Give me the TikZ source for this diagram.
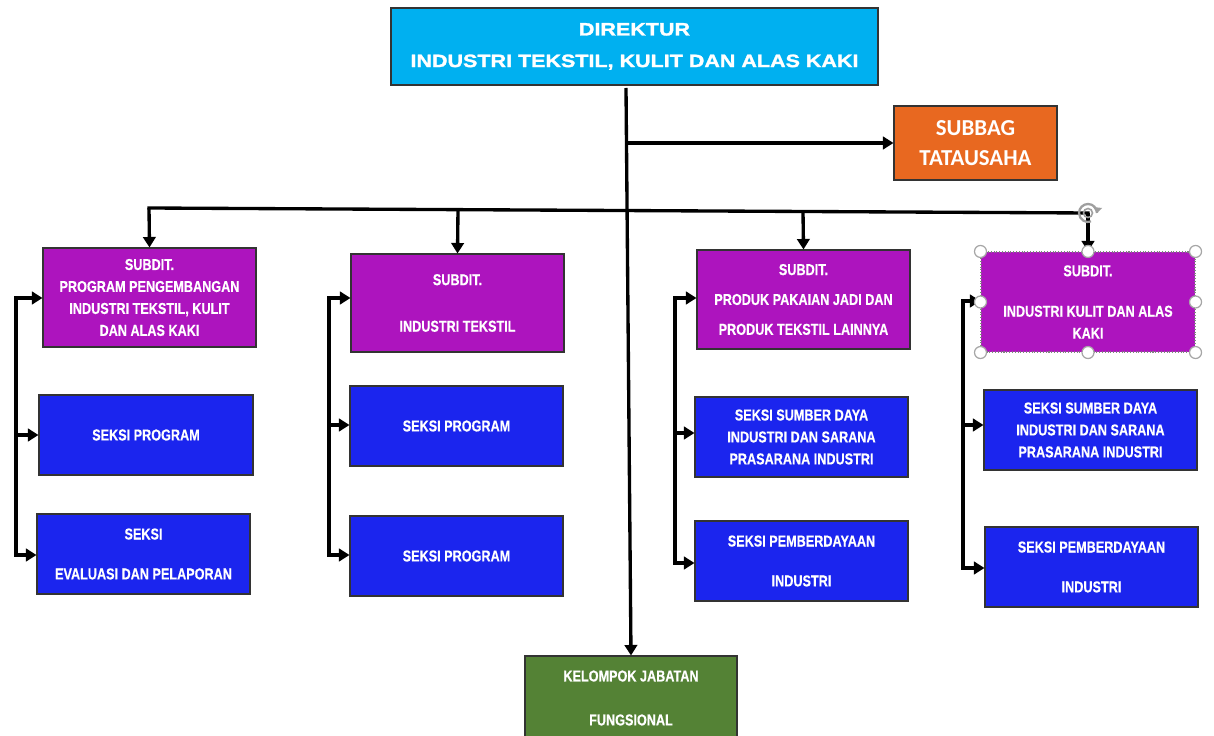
\documentclass[tikz,border=0pt]{standalone}
\usepackage{fontspec}
\setmainfont{Liberation Sans}
\newfontfamily\cond[FakeStretch=0.8,FakeBold=0.4]{Liberation Sans}
\newfontfamily\widefont[FakeStretch=1.2,FakeBold=1.6]{Liberation Sans}
\newfontfamily\calib{Carlito}
\usetikzlibrary{arrows.meta}
\definecolor{cdir}{RGB}{0,176,240}
\definecolor{corange}{RGB}{232,104,32}
\definecolor{cpurple}{RGB}{173,20,190}
\definecolor{cblue}{RGB}{27,37,238}
\definecolor{cgreen}{RGB}{84,130,53}
\tikzset{
  box/.style={draw=black!80, line width=0.6pt, inner sep=0pt, align=center, text=white,
    font=\cond\bfseries\fontsize{9}{12.5}\selectfont},
  sz/.style 2 args={minimum width=#1*0.02cm, minimum height=#2*0.02cm},
  subdit/.style={box, fill=cpurple},
  seksi/.style={box, fill=cblue},
  ln/.style={line width=1.9pt, line cap=rect},
  arr/.style={line width=1.9pt, -{Triangle[length=0.21cm,width=0.25cm]}},
  handle/.style={draw=gray!70, fill=white, line width=0.7pt},
}
\begin{document}
\begin{tikzpicture}[x=0.02cm,y=-0.02cm]
\useasboundingbox (0,0) rectangle (1214,736);
% boxes
\node[box, fill=cdir, sz={487}{77}, font=\widefont\bfseries\fontsize{10.2}{12}\selectfont] (dir) at (634.5,46.5) {DIREKTUR\\[6pt]INDUSTRI TEKSTIL, KULIT DAN ALAS KAKI};
\node[box, fill=corange, sz={163}{74}, font=\calib\bfseries\fontsize{13}{17}\selectfont] (sub) at (975.5,143) {SUBBAG\\TATAUSAHA};
\node[subdit, sz={213}{99}] (sd1) at (149.5,297.5) {SUBDIT.\\PROGRAM PENGEMBANGAN\\INDUSTRI TEKSTIL, KULIT\\DAN ALAS KAKI};
\node[subdit, sz={213}{98}] (sd2) at (457.5,303) {SUBDIT.\\[14pt]INDUSTRI TEKSTIL};
\node[subdit, sz={213}{99}] (sd3) at (803.5,299.5) {SUBDIT.\\[4.5pt]PRODUK PAKAIAN JADI DAN\\[4.5pt]PRODUK TEKSTIL LAINNYA};
\node[subdit, sz={214}{100}, draw=gray, densely dotted] (sd4) at (1088,302) {SUBDIT.\\[10.5pt]INDUSTRI KULIT DAN ALAS\\KAKI};
\node[seksi, sz={214}{80}] (s1a) at (146,435) {SEKSI PROGRAM};
\node[seksi, sz={213}{80}] (s1b) at (143.5,554) {SEKSI\\[10.2pt]EVALUASI DAN PELAPORAN};
\node[seksi, sz={213}{80}] (s2a) at (456.5,426) {SEKSI PROGRAM};
\node[seksi, sz={213}{80}] (s2b) at (456.5,556) {SEKSI PROGRAM};
\node[seksi, sz={213}{80}] (s3a) at (801.5,437) {SEKSI SUMBER DAYA\\INDUSTRI DAN SARANA\\PRASARANA INDUSTRI};
\node[seksi, sz={213}{80}] (s3b) at (801.5,561) {SEKSI PEMBERDAYAAN\\[10.2pt]INDUSTRI};
\node[seksi, sz={213}{80}] (s4a) at (1090.5,430) {SEKSI SUMBER DAYA\\INDUSTRI DAN SARANA\\PRASARANA INDUSTRI};
\node[seksi, sz={213}{80}] (s4b) at (1091.5,567) {SEKSI PEMBERDAYAAN\\[10.2pt]INDUSTRI};
\node[box, fill=cgreen, sz={212}{84}] (kel) at (631,698) {KELOMPOK JABATAN\\[12.5pt]FUNGSIONAL};
% main spine
\coordinate (top) at (626,88);
\coordinate (jsub) at (626.6,143);
\draw[arr] (top) -- (kel.north);
\draw[arr] (jsub) -- (sub.west);
% bus
\coordinate (b1) at (149,208);
\coordinate (b2) at (458,209.6);
\coordinate (b3) at (803,211.5);
\coordinate (b4) at (1088,213);
\draw[ln] (b1) -- (b4);
\draw[arr] (b1) -- (sd1.north);
\draw[arr] (b2) -- (sd2.north);
\draw[arr] (b3) -- (sd3.north);
\draw[arr] (b4) -- (sd4.north);
% column 1 bracket
\coordinate (c1a) at (16,298);
\coordinate (c1b) at (16,435);
\coordinate (c1c) at (16,555);
\draw[ln] (c1a) -- (c1c);
\draw[arr] (c1a) -- (c1a -| sd1.west);
\draw[arr] (c1b) -- (c1b -| s1a.west);
\draw[arr] (c1c) -- (c1c -| s1b.west);
% column 2 bracket
\coordinate (c2a) at (329,298);
\coordinate (c2b) at (329,425);
\coordinate (c2c) at (329,555);
\draw[ln] (c2a) -- (c2c);
\draw[arr] (c2a) -- (c2a -| sd2.west);
\draw[arr] (c2b) -- (c2b -| s2a.west);
\draw[arr] (c2c) -- (c2c -| s2b.west);
% column 3 bracket
\coordinate (c3a) at (675,298);
\coordinate (c3b) at (675,433);
\coordinate (c3c) at (675,563);
\draw[ln] (c3a) -- (c3c);
\draw[arr] (c3a) -- (c3a -| sd3.west);
\draw[arr] (c3b) -- (c3b -| s3a.west);
\draw[arr] (c3c) -- (c3c -| s3b.west);
% column 4 bracket
\coordinate (c4a) at (963,301);
\coordinate (c4b) at (963,425);
\coordinate (c4c) at (963,568);
\draw[ln] (c4a) -- (c4c);
\draw[arr] (c4a) -- (c4a -| sd4.west);
\draw[arr] (c4b) -- (c4b -| s4a.west);
\draw[arr] (c4c) -- (c4c -| s4b.west);
% selection handles on sd4
\foreach \a in {north west,north,north east,west,east,south west,south,south east}
  \draw[handle] (sd4.\a) circle[radius=0.12cm];
\draw[gray!75, line width=1.3pt] (b4) ++(9,0) arc[start angle=0, end angle=290, radius=0.18cm];
\draw[gray!75, line width=0.9pt] (b4) circle[radius=0.09cm];
\fill[gray!75] (1097,213) -- (1102,208) -- (1093,207) -- cycle;
\end{tikzpicture}
\end{document}
